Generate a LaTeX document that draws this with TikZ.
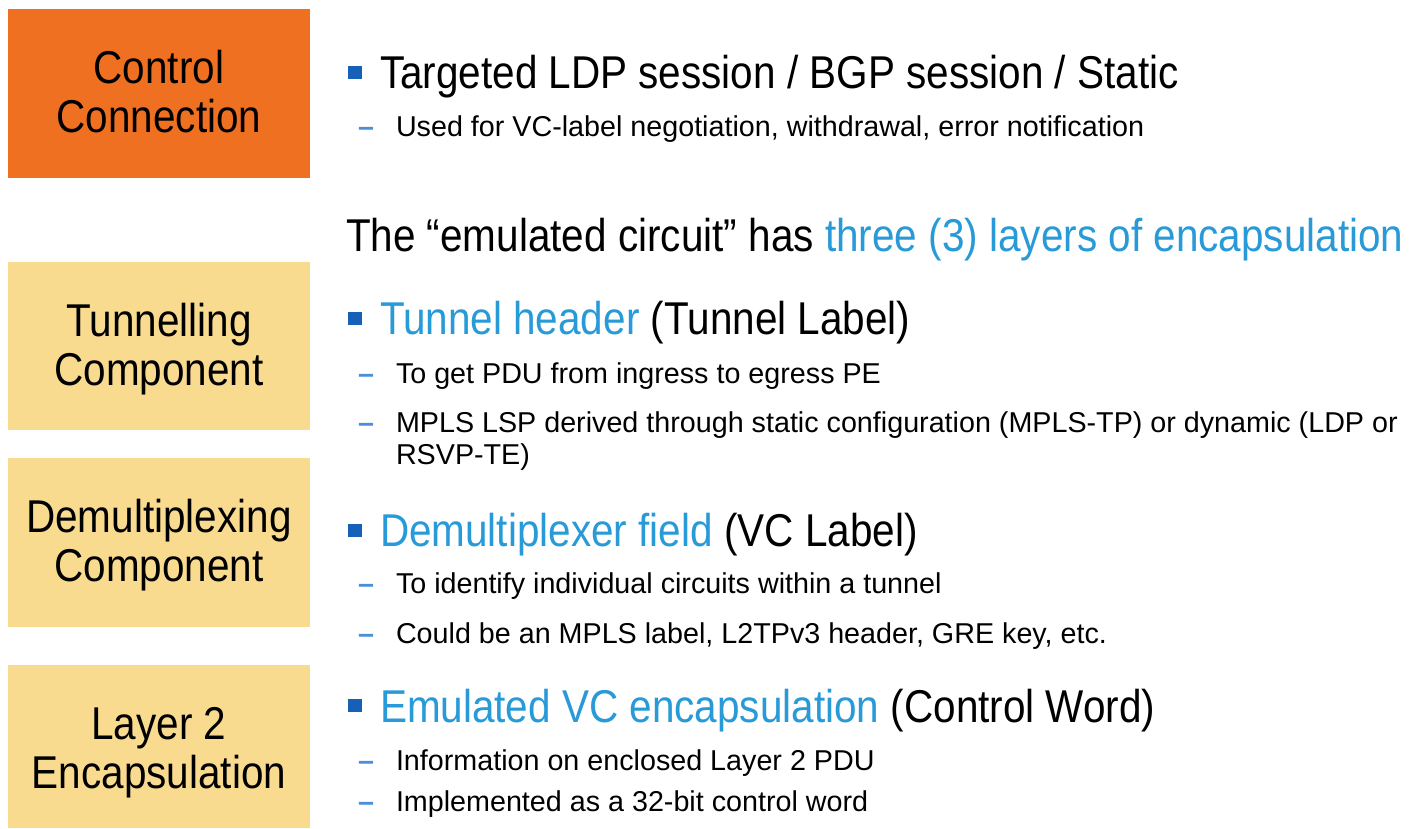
\documentclass[tikz,border=0pt]{standalone}
\usepackage{fontspec}
\setmainfont{Liberation Sans}
\newfontfamily\bigf[FakeStretch=0.88]{Liberation Sans}
\newfontfamily\smallf{Liberation Sans}
\definecolor{boxorange}{RGB}{240,112,34}
\definecolor{boxtan}{RGB}{249,219,143}
\definecolor{txtblue}{RGB}{40,154,216}
\definecolor{bulblue}{RGB}{22,96,184}
\definecolor{dashblue}{RGB}{74,143,216}
\begin{document}
\begin{tikzpicture}[x=1pt,y=-1pt,
  lbl/.style={inner sep=0pt,outer sep=0pt,anchor=base,text=black,font=\bigf\fontsize{46}{50}\selectfont},
  mainline/.style={inner sep=0pt,outer sep=0pt,anchor=base west,text=black,font=\bigf\fontsize{46}{50}\selectfont},
  subline/.style={inner sep=0pt,outer sep=0pt,anchor=base west,text=black,font=\smallf\fontsize{28.7}{32}\selectfont},
  dashmark/.style={inner sep=0pt,outer sep=0pt,anchor=base west,text=dashblue,font=\smallf\bfseries\fontsize{28.7}{32}\selectfont},
  sqbullet/.style={fill=bulblue,draw=none,minimum width=14pt,minimum height=13pt,inner sep=0pt,outer sep=0pt},
  orangebox/.style={fill=boxorange,draw=none},
  tanbox/.style={fill=boxtan,draw=none}
]
\fill[white] (0,0) rectangle (1418,828);
\useasboundingbox (0,0) rectangle (1418,828);

% left boxes
\fill[orangebox] (8,9) rectangle (310,178);
\fill[tanbox] (8,262) rectangle (310,430);
\fill[tanbox] (8,458) rectangle (310,627);
\fill[tanbox] (8,665) rectangle (310,828);

\node[lbl] (cc1) at (159,83) {Control};
\node[lbl] (cc2) at (159,132) {Connection};
\node[lbl] (tc1) at (159,336) {Tunnelling};
\node[lbl] (tc2) at (159,385) {Component};
\node[lbl] (dc1) at (159,532) {Demultiplexing};
\node[lbl] (dc2) at (159,581) {Component};
\node[lbl] (lc1) at (159,739) {Layer 2};
\node[lbl] (lc2) at (159,788) {Encapsulation};

% control connection
\node[sqbullet] (b1) at (355,72) {};
\node[mainline] (m1) at (380,88) {Targeted LDP session / BGP session / Static};
\node[dashmark] (d1) at (358,136) {–};
\node[subline] (s1) at (396,136) {Used for VC-label negotiation, withdrawal, error notification};

% heading
\node[mainline] (hd) at (346,251) {The “emulated circuit” has \textcolor{txtblue}{three (3) layers of encapsulation}};

% tunnel
\node[sqbullet] (b2) at (355,318) {};
\node[mainline] (m2) at (380,334) {\textcolor{txtblue}{Tunnel header} (Tunnel Label)};
\node[dashmark] (d2) at (358,383) {–};
\node[subline] (s2) at (396,383) {To get PDU from ingress to egress PE};
\node[dashmark] (d3) at (358,432) {–};
\node[subline] (s3) at (396,432) {MPLS LSP derived through static configuration (MPLS-TP) or dynamic (LDP or};
\node[subline] (s4) at (396,464) {RSVP-TE)};

% demux
\node[sqbullet] (b3) at (355,530) {};
\node[mainline] (m3) at (380,546) {\textcolor{txtblue}{Demultiplexer field} (VC Label)};
\node[dashmark] (d4) at (358,593) {–};
\node[subline] (s5) at (396,593) {To identify individual circuits within a tunnel};
\node[dashmark] (d5) at (358,643) {–};
\node[subline] (s6) at (396,643) {Could be an MPLS label, L2TPv3 header, GRE key, etc.};

% layer 2
\node[sqbullet] (b4) at (355,705) {};
\node[mainline] (m4) at (380,722) {\textcolor{txtblue}{Emulated VC encapsulation} (Control Word)};
\node[dashmark] (d6) at (358,770) {–};
\node[subline] (s7) at (396,770) {Information on enclosed Layer 2 PDU};
\node[dashmark] (d7) at (358,811) {–};
\node[subline] (s8) at (396,811) {Implemented as a 32-bit control word};
\end{tikzpicture}
\end{document}
